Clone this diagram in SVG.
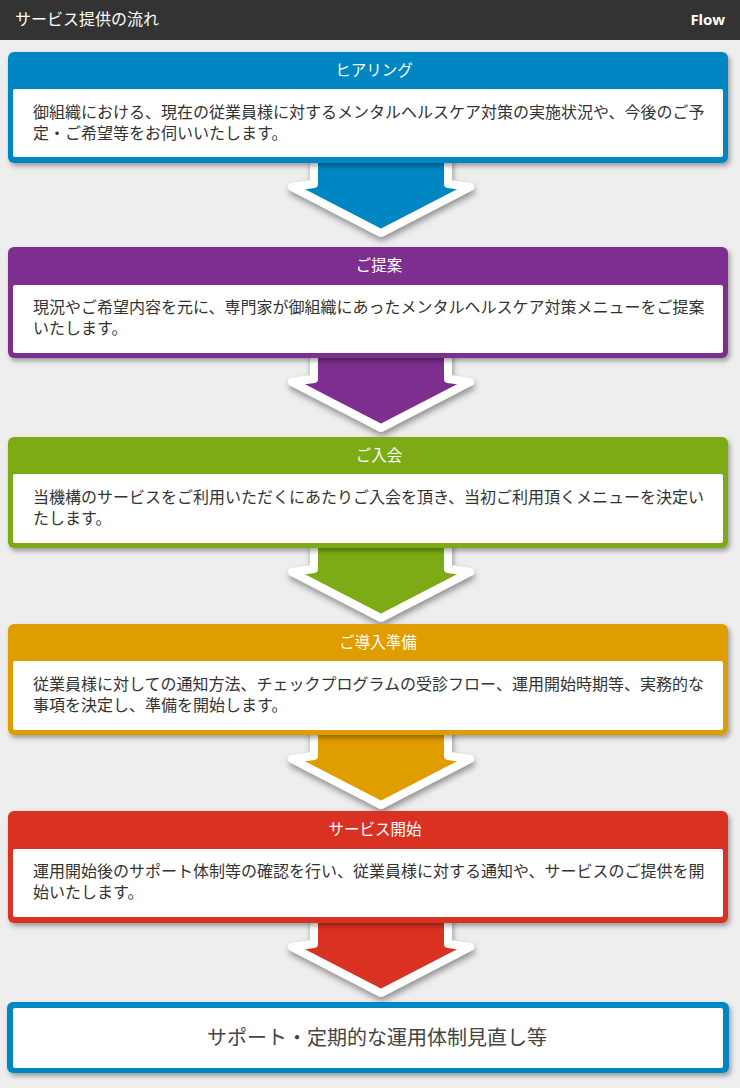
<svg xmlns="http://www.w3.org/2000/svg" width="740" height="1088" viewBox="0 0 740 1088">
<style>
.ttl{font-family:"Noto Sans CJK JP","Noto Sans",sans-serif;font-size:15.5px;fill:#fff;text-anchor:middle}
.body{font-family:"Noto Sans CJK JP","Noto Sans",sans-serif;font-size:16px;fill:#333}
.white{fill:#fff}
.arrow{stroke:#fff;stroke-width:8;stroke-linejoin:round}
</style>
<defs>
<filter id="sh" x="-10%" y="-20%" width="120%" height="150%">
<feDropShadow dx="2" dy="3" stdDeviation="2.5" flood-color="#000" flood-opacity="0.35"/>
</filter>
<filter id="ash" x="-20%" y="-20%" width="140%" height="160%">
<feDropShadow dx="1" dy="4" stdDeviation="3" flood-color="#000" flood-opacity="0.4"/>
</filter>
<polygon id="arr" points="314,-6 314,21 292,24 381,70 470,24 448,21 448,-6"/>
</defs>
<rect width="740" height="1088" fill="#eeeeee"/>
<g id="header">
<rect width="740" height="40" fill="#333333"/>
<text x="15" y="25" font-family="'Noto Sans CJK JP','Noto Sans',sans-serif" font-size="16" fill="#fff">サービス提供の流れ</text>
<text x="725" y="25" text-anchor="end" font-family="'Noto Sans','Liberation Sans',sans-serif" font-size="15" font-weight="bold" fill="#fff">Flow</text>
</g>
<g id="connectors">
<use href="#arr" transform="translate(0,163)" class="arrow" fill="#0086c3" filter="url(#ash)"/>
<use href="#arr" transform="translate(0,358)" class="arrow" fill="#7e2f8e" filter="url(#ash)"/>
<use href="#arr" transform="translate(0,548)" class="arrow" fill="#7dab16" filter="url(#ash)"/>
<use href="#arr" transform="translate(0,735)" class="arrow" fill="#e09d00" filter="url(#ash)"/>
<use href="#arr" transform="translate(0,923)" class="arrow" fill="#d93022" filter="url(#ash)"/>
</g>
<g id="step1">
<rect x="8" y="52" width="720" height="111" rx="6" fill="#0086c3" filter="url(#sh)"/>
<rect x="13" y="89" width="710" height="68" rx="2" class="white"/>
<text x="374" y="76" class="ttl">ヒアリング</text>
<text x="33" y="118" class="body">御組織における、現在の従業員様に対するメンタルヘルスケア対策の実施状況や、今後のご予</text>
<text x="33" y="139" class="body">定・ご希望等をお伺いいたします。</text>
</g>
<g id="step2">
<rect x="8" y="247" width="720" height="111" rx="6" fill="#7e2f8e" filter="url(#sh)"/>
<rect x="13" y="285" width="710" height="68" rx="2" class="white"/>
<text x="379" y="271" class="ttl">ご提案</text>
<text x="33" y="313" class="body">現況やご希望内容を元に、専門家が御組織にあったメンタルヘルスケア対策メニューをご提案</text>
<text x="33" y="334" class="body">いたします。</text>
</g>
<g id="step3">
<rect x="8" y="437" width="720" height="111" rx="6" fill="#7dab16" filter="url(#sh)"/>
<rect x="13" y="474" width="710" height="69" rx="2" class="white"/>
<text x="379" y="461" class="ttl">ご入会</text>
<text x="33" y="503" class="body">当機構のサービスをご利用いただくにあたりご入会を頂き、当初ご利用頂くメニューを決定い</text>
<text x="33" y="524" class="body">たします。</text>
</g>
<g id="step4">
<rect x="8" y="624" width="720" height="111" rx="6" fill="#e09d00" filter="url(#sh)"/>
<rect x="13" y="661" width="710" height="69" rx="2" class="white"/>
<text x="378" y="648" class="ttl">ご導入準備</text>
<text x="33" y="690" class="body">従業員様に対しての通知方法、チェックプログラムの受診フロー、運用開始時期等、実務的な</text>
<text x="33" y="711" class="body">事項を決定し、準備を開始します。</text>
</g>
<g id="step5">
<rect x="8" y="811" width="720" height="112" rx="6" fill="#d93022" filter="url(#sh)"/>
<rect x="13" y="849" width="710" height="68" rx="2" class="white"/>
<text x="375" y="835" class="ttl">サービス開始</text>
<text x="33" y="877" class="body">運用開始後のサポート体制等の確認を行い、従業員様に対する通知や、サービスのご提供を開</text>
<text x="33" y="898" class="body">始いたします。</text>
</g>
<g id="final">
<rect x="7" y="1002" width="722" height="71" rx="6" fill="#0086c3" filter="url(#sh)"/>
<rect x="13" y="1008" width="710" height="60" rx="2" class="white"/>
<text x="377" y="1045" text-anchor="middle" font-family="'Noto Sans CJK JP','Noto Sans',sans-serif" font-size="20" fill="#444">サポート・定期的な運用体制見直し等</text>
</g>
</svg>
